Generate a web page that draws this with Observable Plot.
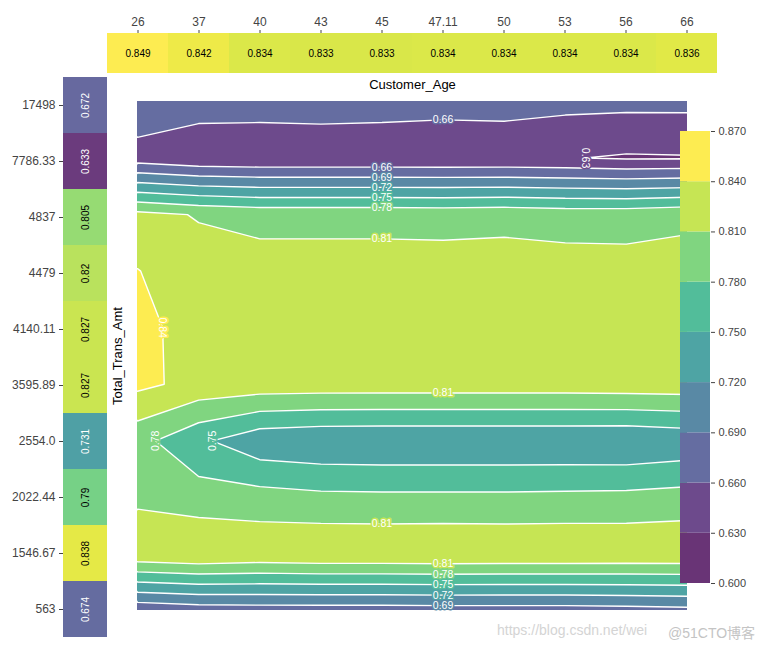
<!DOCTYPE html>
<html>
<head>
<meta charset="utf-8">
<script src="https://cdn.jsdelivr.net/npm/d3@7"></script>
<script src="https://cdn.jsdelivr.net/npm/@observablehq/plot@0.6"></script>
<style>
  body { margin: 0; background: #fff; }
  #chart { position: relative; width: 776px; height: 651px; font-family: "Liberation Sans", Arial, sans-serif; }
  #chart svg { position: absolute; left: 0; top: 0; }
  .wm { position: absolute; top: 622px; font-size: 14px; color: #d4d4d4; white-space: nowrap; font-family: "Liberation Sans", "Noto Sans CJK SC", sans-serif; }
</style>
</head>
<body>
<div id="chart"></div>
<script>
// ---- data ----
const ageTicks = ["26", "37", "40", "43", "45", "47.11", "50", "53", "56", "66"];
const agePdp = [0.849, 0.842, 0.834, 0.833, 0.833, 0.834, 0.834, 0.834, 0.834, 0.836];
const amtTicks = ["563", "1546.67", "2022.44", "2554.0", "3595.89", "4140.11", "4479", "4837", "7786.33", "17498"];
const amtPdp = [0.674, 0.838, 0.79, 0.731, 0.827, 0.827, 0.82, 0.805, 0.633, 0.672];

// interaction grid: one row per Total_Trans_Amt grid point (563 first), one column per Customer_Age grid point
const row0 = [0.666, 0.673, 0.675, 0.675, 0.675, 0.676, 0.676, 0.676, 0.678, 0.681];
const row1 = [0.833, 0.839, 0.834, 0.837, 0.837, 0.838, 0.837, 0.837, 0.836, 0.836];
const row2 = [0.804, 0.794, 0.792, 0.787, 0.786, 0.786, 0.786, 0.787, 0.788, 0.792];
const row3 = [0.790, 0.756, 0.729, 0.724, 0.723, 0.723, 0.723, 0.723, 0.722, 0.728];
const row4 = [0.847, 0.831, 0.827, 0.826, 0.826, 0.826, 0.826, 0.826, 0.827, 0.828];
const row5 = [0.847, 0.830, 0.827, 0.826, 0.826, 0.826, 0.826, 0.826, 0.826, 0.827];
const row6 = [0.841, 0.822, 0.822, 0.822, 0.822, 0.822, 0.822, 0.822, 0.821, 0.821];
const row7 = [0.819, 0.808, 0.801, 0.801, 0.801, 0.800, 0.802, 0.798, 0.798, 0.804];
const row8 = [0.645, 0.635, 0.633, 0.633, 0.633, 0.633, 0.633, 0.6315, 0.627, 0.628];
const row9 = [0.686, 0.676, 0.676, 0.678, 0.676, 0.673, 0.6745, 0.669, 0.668, 0.668];

const levels = [0.60, 0.63, 0.66, 0.69, 0.72, 0.75, 0.78, 0.81, 0.84, 0.87];

// contour labels: level, direction of the crossing, grid line index, segment start index, rotation
const labelLevels = [0.66, 0.63, 0.66, 0.69, 0.72, 0.75, 0.78, 0.81, 0.84, 0.81, 0.78, 0.75, 0.81, 0.81, 0.78, 0.75, 0.72, 0.69];
const labelAlong  = ["col","row","col","col","col","col","col","col","row","col","row","row","col","col","col","col","col","col"];
const labelLine   = [5, 8, 4, 4, 4, 4, 4, 4, 5, 5, 3, 3, 4, 5, 5, 5, 5, 5];
const labelSeg    = [8, 7, 7, 7, 7, 7, 7, 6, 0, 3, 0, 1, 1, 0, 0, 0, 0, 0];
const labelRot    = [0, 90, 0, 0, 0, 0, 0, 0, 90, 0, -90, -90, 0, 0, 0, 0, 0, 0];

// ---- derived ----
const M = [row0, row1, row2, row3, row4, row5, row6, row7, row8, row9];
const grid = M.flat();
const allVals = [...agePdp, ...amtPdp, ...grid];
const vmin = d3.min(allVals), vmax = d3.max(allVals);
const vmean = vmin + (vmax - vmin) / 2;
const shade = t => d3.interpolateRgb("white", d3.interpolateViridis(Math.max(0, Math.min(1, t))))(0.8);
const cellColor = v => shade((v - vmin) / (vmax - vmin));
const bandColors = d3.range(levels.length - 1).map(i => shade(((levels[i] + levels[i + 1]) / 2 - vmin) / (vmax - vmin)));
const fmt2 = d3.format(".2f");

const labels = labelLevels.map((lev, i) => {
  let x, y;
  if (labelAlong[i] === "col") {
    const c = labelLine[i], r = labelSeg[i];
    const v0 = M[r][c], v1 = M[r + 1][c];
    x = c; y = r + (lev - v0) / (v1 - v0);
  } else {
    const r = labelLine[i], c = labelSeg[i];
    const v0 = M[r][c], v1 = M[r][c + 1];
    y = r; x = c + (lev - v0) / (v1 - v0);
  }
  return {x, y, level: lev, text: fmt2(lev), rot: labelRot[i]};
});

const ageData = ageTicks.map((t, i) => ({tick: t, v: agePdp[i]}));
const amtData = amtTicks.map((t, i) => ({tick: t, v: amtPdp[i]}));
const bands = d3.range(levels.length - 1).map(i => ({lo: levels[i], hi: levels[i + 1], color: bandColors[i]}));

const baseStyle = {background: "transparent", fontFamily: "Liberation Sans, Arial, sans-serif", fontSize: "12px", color: "#444", overflow: "visible"};
const chart = document.getElementById("chart");

// main contour plot
const mainPlot = Plot.plot({
  width: 776, height: 651,
  marginLeft: 137, marginRight: 89, marginTop: 101, marginBottom: 41,
  style: baseStyle,
  x: {domain: [0, 9], axis: null},
  y: {domain: [0, 9], axis: null},
  color: {type: "threshold", domain: levels.slice(1, -1), range: bandColors},
  marks: [
    Plot.contour(grid, {width: 10, height: 10, x1: -0.5, x2: 9.5, y1: -0.5, y2: 9.5,
      thresholds: levels, fill: Plot.identity, stroke: "white", strokeWidth: 1.4, clip: true}),
    Plot.text(labels, {x: "x", y: "y", text: "text", rotate: "rot", fill: "white", stroke: "level",
      strokeWidth: 3, fontSize: 10.5}),
    Plot.text(["Customer_Age"], {frameAnchor: "top", lineAnchor: "middle", dy: -17, fontSize: 13, fill: "black"}),
    Plot.text(["Total_Trans_Amt"], {frameAnchor: "left", textAnchor: "middle", rotate: -90, dx: -20, fontSize: 13, fill: "black"})
  ]
});
chart.appendChild(mainPlot);

// top strip: Customer_Age pdp
const topPlot = Plot.plot({
  width: 776, height: 73,
  marginLeft: 107, marginRight: 59, marginTop: 33, marginBottom: 0,
  style: baseStyle,
  x: {type: "band", domain: ageTicks, padding: 0, axis: "top", tickSize: 4, tickPadding: 4, label: null},
  y: {axis: null},
  color: {type: "identity"},
  marks: [
    Plot.cell(ageData, {x: "tick", fill: d => cellColor(d.v)}),
    Plot.text(ageData, {x: "tick", frameAnchor: "middle", text: d => String(d.v),
      fill: d => d.v >= vmean ? "black" : "white", fontSize: 10})
  ]
});
chart.appendChild(topPlot);

// left strip: Total_Trans_Amt pdp
const leftPlot = Plot.plot({
  width: 107, height: 640,
  marginLeft: 63, marginRight: 0, marginTop: 73, marginBottom: 0,
  style: baseStyle,
  y: {type: "band", domain: amtTicks.slice().reverse(), padding: 0, axis: "left", tickSize: 4, tickPadding: 4, label: null},
  x: {axis: null},
  color: {type: "identity"},
  marks: [
    Plot.cell(amtData, {y: "tick", fill: d => cellColor(d.v)}),
    Plot.text(amtData, {y: "tick", frameAnchor: "middle", text: d => String(d.v), rotate: -90,
      fill: d => d.v >= vmean ? "black" : "white", fontSize: 10})
  ]
});
chart.appendChild(leftPlot);

// colorbar
const cbPlot = Plot.plot({
  width: 776, height: 651,
  marginLeft: 680, marginRight: 66, marginTop: 131, marginBottom: 68,
  style: Object.assign({}, baseStyle, {fontSize: "11px"}),
  y: {domain: [levels[0], levels[levels.length - 1]], ticks: levels, tickFormat: ".3f", axis: "right", tickSize: 4, tickPadding: 4, label: null},
  x: {axis: null},
  color: {type: "identity"},
  marks: [
    Plot.rect(bands, {y1: "lo", y2: "hi", fill: "color"})
  ]
});
chart.appendChild(cbPlot);

// watermark
const wm1 = document.createElement("div");
wm1.className = "wm"; wm1.style.left = "497px"; wm1.textContent = "https://blog.csdn.net/wei";
chart.appendChild(wm1);
const wm2 = document.createElement("div");
wm2.className = "wm"; wm2.style.left = "668px"; wm2.style.color = "#c4c4c4"; wm2.textContent = "@51CTO博客";
chart.appendChild(wm2);
</script>
</body>
</html>
